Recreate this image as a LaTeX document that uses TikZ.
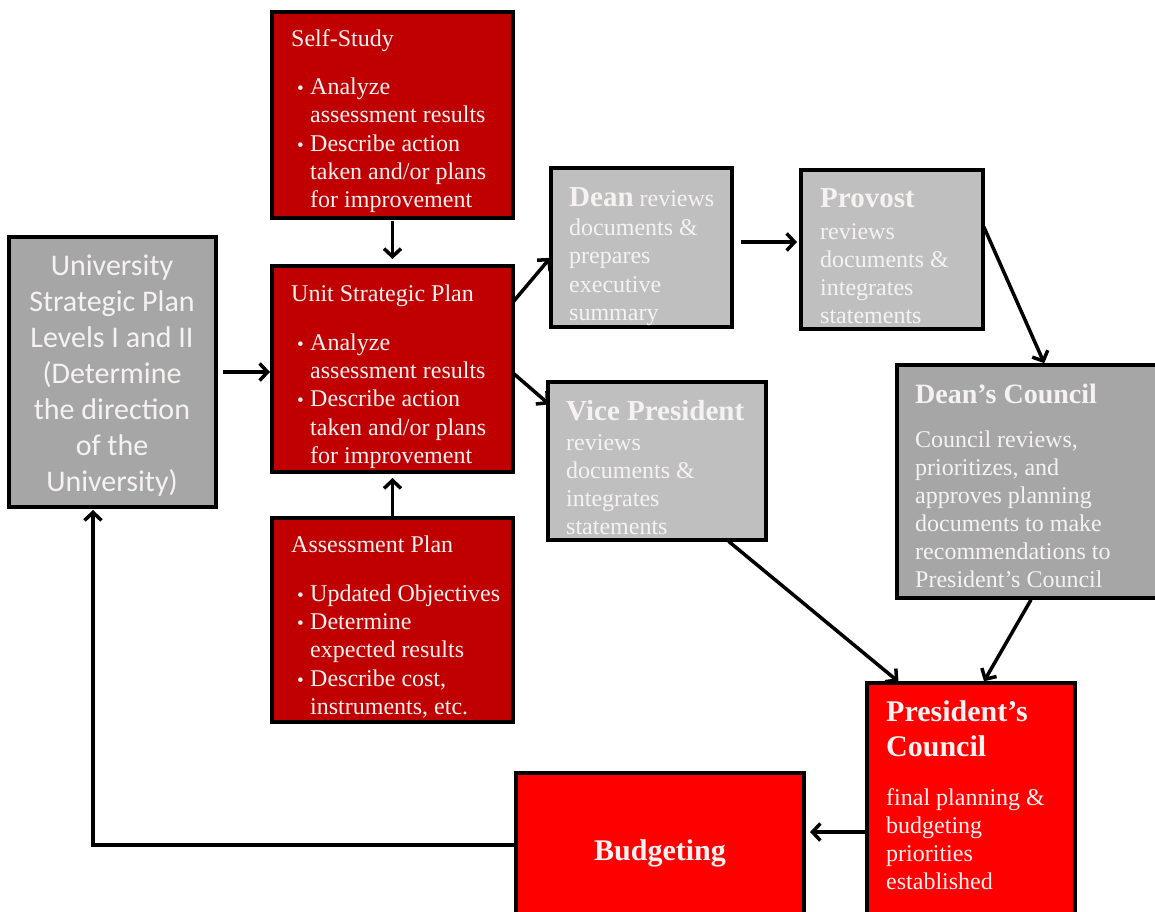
\documentclass[tikz,border=0pt]{standalone}
\usepackage{fontspec}
\setmainfont{Liberation Serif}
\newfontfamily\carlito{Carlito}
\usetikzlibrary{arrows.meta,calc}
\definecolor{dred}{RGB}{192,0,0}
\definecolor{bred}{RGB}{255,0,0}
\definecolor{lgray}{RGB}{191,191,191}
\definecolor{mgray}{RGB}{166,166,166}
\definecolor{wtext}{RGB}{246,242,242}
\newcommand\bulitem{\hspace*{6pt}\makebox[13pt][l]{\scalebox{0.8}{\textbullet}}}
\newcommand\bulind{\hspace*{19pt}}
\newcommand\tfont[1]{\fontsize{#1}{#1}\selectfont\bfseries}
\tikzset{
  box/.style={draw=black, line width=4.5pt, anchor=north west, inner sep=0pt, outer sep=0pt},
  txt/.style={anchor=north west, inner sep=0pt, align=left, text=wtext, font=\fontsize{24}{28.3}\selectfont},
  arr/.style={line width=3.5pt, -{Straight Barb[length=8pt,width=17pt]}},
}
\begin{document}
\begin{tikzpicture}[x=1pt,y=-1pt]
\useasboundingbox (0,0) rectangle (1155,911);
% boxes
\node[box,fill=dred,minimum width=241pt,minimum height=206pt] (self) at (272,12) {};
\node[box,fill=dred,minimum width=241pt,minimum height=206pt] (unit) at (272,266) {};
\node[box,fill=dred,minimum width=241pt,minimum height=204pt] (assess) at (272,518) {};
\node[box,fill=mgray,minimum width=207pt,minimum height=270pt] (univ) at (9,237) {};
\node[box,fill=lgray,minimum width=181pt,minimum height=159pt] (dean) at (551,168) {};
\node[box,fill=lgray,minimum width=182pt,minimum height=159pt] (prov) at (801,170) {};
\node[box,fill=lgray,minimum width=218pt,minimum height=158pt] (vp) at (548,382) {};
\node[box,fill=mgray,minimum width=275pt,minimum height=233pt] (dc) at (897,365) {};
\node[box,fill=bred,minimum width=208pt,minimum height=245pt] (pres) at (867,683) {};
\node[box,fill=bred,minimum width=288pt,minimum height=155pt] (budg) at (516,773) {};
% texts
\node[txt] (selft) at (291,29) {Self-Study\\[20pt]\bulitem Analyze\\\bulind assessment results\\\bulitem Describe action\\\bulind taken and/or plans\\\bulind for improvement};
\node[txt] (unitt) at (291,285) {Unit Strategic Plan\\[20pt]\bulitem Analyze\\\bulind assessment results\\\bulitem Describe action\\\bulind taken and/or plans\\\bulind for improvement};
\node[txt] (assesst) at (291,536) {Assessment Plan\\[20pt]\bulitem Updated Objectives\\\bulitem Determine\\\bulind expected results\\\bulitem Describe cost,\\\bulind instruments, etc.};
\node[anchor=north, align=center, inner sep=0pt, text=wtext, font=\carlito\fontsize{30}{36}\selectfont] (univt) at (112,255) {University\\Strategic Plan\\Levels I and II\\(Determine\\the direction\\of the\\University)};
\node[txt, font=\fontsize{24}{28.5}\selectfont] (deant) at (569,187.5) {{\tfont{29}Dean} reviews\\documents \&\\prepares\\executive\\summary};
\node[txt, font=\fontsize{24}{28}\selectfont] (provt) at (820,188) {\tfont{29}Provost\\[4pt]reviews\\documents \&\\integrates\\statements};
\node[txt, font=\fontsize{24}{28}\selectfont] (vpt) at (566,400) {\tfont{29}Vice President\\[2pt]reviews\\documents \&\\integrates\\statements};
\node[txt, font=\fontsize{24}{28}\selectfont] (dct) at (915,384) {\tfont{28}Dean's Council\\[16pt]Council reviews,\\prioritizes, and\\approves planning\\documents to make\\recommendations to\\President's Council};
\node[txt, font=\fontsize{24}{28}\selectfont] (prest) at (886,700) {\tfont{30}President's\\[7pt]\tfont{30}Council\\[21pt]final planning \&\\budgeting\\priorities\\established};
\node[inner sep=0pt, text=wtext, font=\tfont{30}] (budgt) at (660,853) {Budgeting};
% connectors
\draw[arr, shorten <=3pt, shorten >=7pt] (self.south) -- (unit.north);
\draw[arr, shorten <=7pt, shorten >=2pt] (univ.east) -- (univ.east -| unit.west);
\draw[arr, shorten >=6pt] (assess.north) -- (unit.south);
\draw[arr, shorten >=1pt] ($(unit.north east)+(0,36)$) -- ($(dean.north west)+(0,89)$);
\draw[arr, shorten >=1pt] ($(unit.north east)+(0,107)$) -- ($(vp.north west)+(2,23)$);
\draw[arr, shorten <=9pt, shorten >=4pt] ($(dean.north east)+(0,74)$) -- ($(prov.north west)+(0,72)$);
\draw[arr, shorten <=2pt, shorten >=2pt] ($(prov.north east)+(0,55)$) -- ($(dc.north west)+(148,0)$);
\draw[arr, shorten <=2pt, shorten >=2pt] ($(vp.south west)+(179,0)$) -- ($(pres.north west)+(33,0)$);
\draw[arr, shorten <=2pt, shorten >=2pt] ($(dc.south west)+(135,0)$) -- ($(pres.north west)+(116,0)$);
\draw[arr, shorten <=2pt, shorten >=6pt] ($(pres.north west)+(0,149)$) -- ($(budg.north east)+(0,59)$);
\draw[arr, shorten >=3pt] ($(budg.north west)+(0,72)$) -| ($(univ.south west)+(84,0)$);
\end{tikzpicture}
\end{document}
